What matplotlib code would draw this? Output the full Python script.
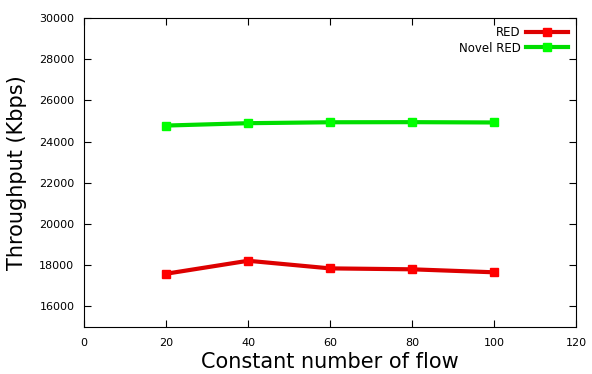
import matplotlib
matplotlib.use('Agg')
import matplotlib.pyplot as plt

flows = [20, 40, 60, 80, 100]
red = [17580, 18210, 17840, 17795, 17650]
novel_red = [24775, 24890, 24935, 24940, 24925]

fig = plt.figure(figsize=(5.92, 3.74), dpi=100)
ax = fig.add_axes([0.142, 0.126, 0.831, 0.826])

ax.plot(flows, red, color='#dd0000', lw=3, marker='s', ms=6,
        markerfacecolor='#ff0000', markeredgecolor='#ff0000', label='RED')
ax.plot(flows, novel_red, color='#00dd00', lw=3, marker='s', ms=6,
        markerfacecolor='#00ff00', markeredgecolor='#00ff00', label='Novel RED')

ax.set_xlim(0, 120)
ax.set_ylim(15000, 30000)
ax.set_xticks(range(0, 121, 20))
ax.set_yticks(range(16000, 30001, 2000))
ax.tick_params(direction='in', top=True, right=True, labelsize=8, length=5)
ax.tick_params(axis='x', pad=8)
ax.tick_params(axis='y', pad=7)
ax.set_xlabel('Constant number of flow', fontsize=15, labelpad=3)
ax.set_ylabel('Throughput (Kbps)', fontsize=15, labelpad=9)

ax.legend(loc='upper right', frameon=False, markerfirst=False, fontsize=8.5,
          handlelength=3.5, borderaxespad=0.3, labelspacing=0.2, handletextpad=0.5)

fig.savefig('out.png', dpi=100)
